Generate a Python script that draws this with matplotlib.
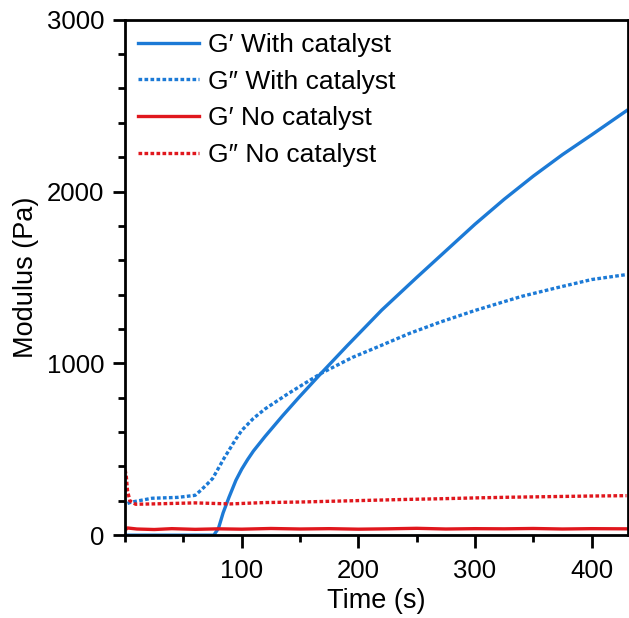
"""
流变曲线：G' / G'' 随时间变化（有/无催化剂）。
"""
import matplotlib
matplotlib.use("Agg")
import matplotlib.pyplot as plt
from matplotlib.ticker import MultipleLocator

# G' With catalyst
t_gp_cat = [0, 76, 80, 84, 89, 95, 100, 105, 110, 120, 135, 149, 168, 190,
            220, 250, 300, 325, 350, 375, 400, 430]
gp_cat = [0, 0, 40, 130, 220, 320, 385, 440, 490, 575, 695, 802, 942, 1100,
          1310, 1500, 1810, 1955, 2090, 2215, 2330, 2471]

# G'' With catalyst
t_gpp_cat = [2, 5, 23, 45, 60, 65, 70, 75, 80, 85, 90, 95, 100, 110, 120,
             140, 168, 195, 218, 244, 270, 300, 340, 370, 400, 430]
gpp_cat = [185, 192, 215, 220, 232, 262, 295, 330, 390, 450, 505, 560, 610,
           680, 735, 825, 942, 1035, 1100, 1175, 1240, 1308, 1390, 1440, 1488, 1517]

# G' No catalyst
t_gp_no = [0, 2, 10, 25, 40, 60, 80, 100, 125, 150, 175, 200, 225, 250,
           275, 300, 325, 350, 375, 400, 430]
gp_no = [30, 42, 36, 33, 38, 34, 37, 35, 39, 36, 38, 35, 37, 40, 36, 38,
         37, 39, 36, 38, 37]

# G'' No catalyst
t_gpp_no = [0, 1, 2, 4, 9, 30, 60, 90, 120, 150, 180, 210, 240, 270, 300,
            330, 360, 400, 430]
gpp_no = [380, 340, 260, 200, 180, 183, 188, 182, 190, 193, 198, 203, 208,
          212, 217, 221, 224, 228, 230]

BLUE = "#1c7ad6"
RED = "#e0171d"

plt.rcParams["font.family"] = ["Liberation Sans", "DejaVu Sans"]

fig = plt.figure(figsize=(6.29, 6.18), dpi=100)
ax = fig.add_axes([0.199, 0.134, 0.799, 0.834])

dots = (0, (1.1, 0.7))
ax.plot(t_gp_cat, gp_cat, color=BLUE, lw=2.4, label="G\u2032 With catalyst")
ax.plot(t_gpp_cat, gpp_cat, color=BLUE, lw=2.4, linestyle=dots,
        label="G\u2033 With catalyst")
ax.plot(t_gp_no, gp_no, color=RED, lw=2.4, label="G\u2032 No catalyst")
ax.plot(t_gpp_no, gpp_no, color=RED, lw=2.4, linestyle=dots,
        label="G\u2033 No catalyst")

ax.set_xlim(0, 431)
ax.set_ylim(0, 3000)
ax.xaxis.set_minor_locator(MultipleLocator(50))
ax.yaxis.set_major_locator(MultipleLocator(1000))
ax.yaxis.set_minor_locator(MultipleLocator(200))
ax.set_xticks([100, 200, 300, 400])

for s in ax.spines.values():
    s.set_linewidth(2)
ax.tick_params(which="major", direction="out", length=9, width=2,
               labelsize=18.5)
ax.tick_params(which="minor", direction="out", length=5, width=2)
ax.tick_params(axis="x", which="major", pad=8)
ax.tick_params(axis="y", which="major", pad=6)

ax.set_xlabel("Time (s)", fontsize=19.5, labelpad=4)
ax.set_ylabel("Modulus (Pa)", fontsize=19.5, labelpad=6)

ax.legend(loc="upper left", frameon=False, fontsize=19, handlelength=2.3,
          labelspacing=0.48, borderaxespad=0.1, handletextpad=0.35)

fig.savefig("out.png", dpi=100)
plt.close(fig)
